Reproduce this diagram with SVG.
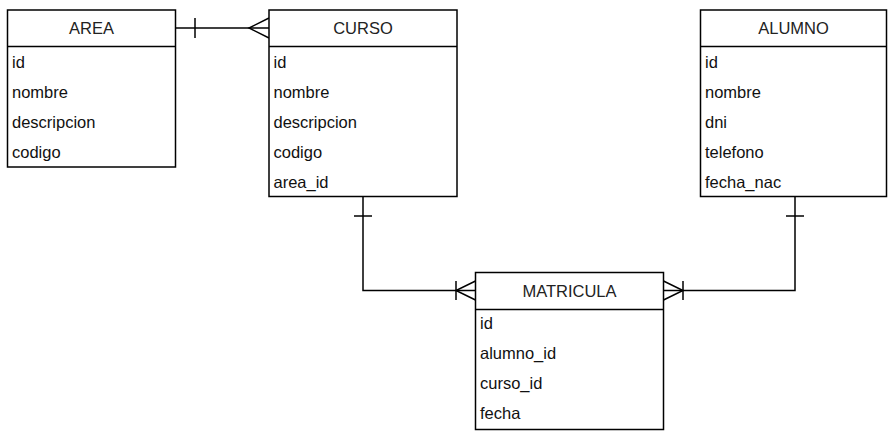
<svg xmlns="http://www.w3.org/2000/svg" width="894" height="438" viewBox="0 0 894 438">
<style>
.box{fill:#fff;stroke:#000;stroke-width:1.5}
.sep{stroke:#000;stroke-width:1.5}
.title{font-family:"Liberation Sans",Arial,sans-serif;font-size:16.5px;fill:#222;text-anchor:middle;dominant-baseline:central}
.fld{font-family:"Liberation Sans",Arial,sans-serif;font-size:16.5px;fill:#111;dominant-baseline:central}
.con{fill:none;stroke:#000;stroke-width:1.5}
</style>
<rect width="894" height="438" fill="#fff"/>
<g id="connectors">
  <path class="con" d="M175.5 28 H269"/>
  <path class="con" d="M195 18 V38"/>
  <path class="con" d="M269 18 L249 28 L269 38"/>
  <path class="con" d="M363 196 V290.5 H475.5"/>
  <path class="con" d="M354 216 H372"/>
  <path class="con" d="M456 281 V300"/>
  <path class="con" d="M475.5 281 L456 290.5 L475.5 300"/>
  <path class="con" d="M795 196.5 V290.5 H663.5"/>
  <path class="con" d="M786 216 H804"/>
  <path class="con" d="M683 281 V300"/>
  <path class="con" d="M663.5 281 L683 290.5 L663.5 300"/>
</g>
<g id="area">
  <rect class="box" x="7.5" y="10" width="168" height="157"/>
  <line class="sep" x1="7.5" y1="46.5" x2="175.5" y2="46.5"/>
  <text class="title" x="91.5" y="28">AREA</text>
  <text class="fld" x="12" y="62">id</text>
  <text class="fld" x="12" y="92">nombre</text>
  <text class="fld" x="12" y="122">descripcion</text>
  <text class="fld" x="12" y="152">codigo</text>
</g>
<g id="curso">
  <rect class="box" x="269" y="10" width="188" height="186.5"/>
  <line class="sep" x1="269" y1="46.5" x2="457" y2="46.5"/>
  <text class="title" x="363" y="28">CURSO</text>
  <text class="fld" x="273.5" y="62">id</text>
  <text class="fld" x="273.5" y="92">nombre</text>
  <text class="fld" x="273.5" y="122">descripcion</text>
  <text class="fld" x="273.5" y="152">codigo</text>
  <text class="fld" x="273.5" y="182">area_id</text>
</g>
<g id="alumno">
  <rect class="box" x="700.5" y="10" width="186" height="186.5"/>
  <line class="sep" x1="700.5" y1="46.5" x2="886.5" y2="46.5"/>
  <text class="title" x="793.5" y="28">ALUMNO</text>
  <text class="fld" x="705" y="62">id</text>
  <text class="fld" x="705" y="92">nombre</text>
  <text class="fld" x="705" y="122">dni</text>
  <text class="fld" x="705" y="152">telefono</text>
  <text class="fld" x="705" y="182">fecha_nac</text>
</g>
<g id="matricula">
  <rect class="box" x="475.5" y="272.5" width="188" height="157"/>
  <line class="sep" x1="475.5" y1="309.5" x2="663.5" y2="309.5"/>
  <text class="title" x="569.5" y="290.5">MATRICULA</text>
  <text class="fld" x="480" y="323">id</text>
  <text class="fld" x="480" y="353">alumno_id</text>
  <text class="fld" x="480" y="383">curso_id</text>
  <text class="fld" x="480" y="413">fecha</text>
</g>
</svg>
